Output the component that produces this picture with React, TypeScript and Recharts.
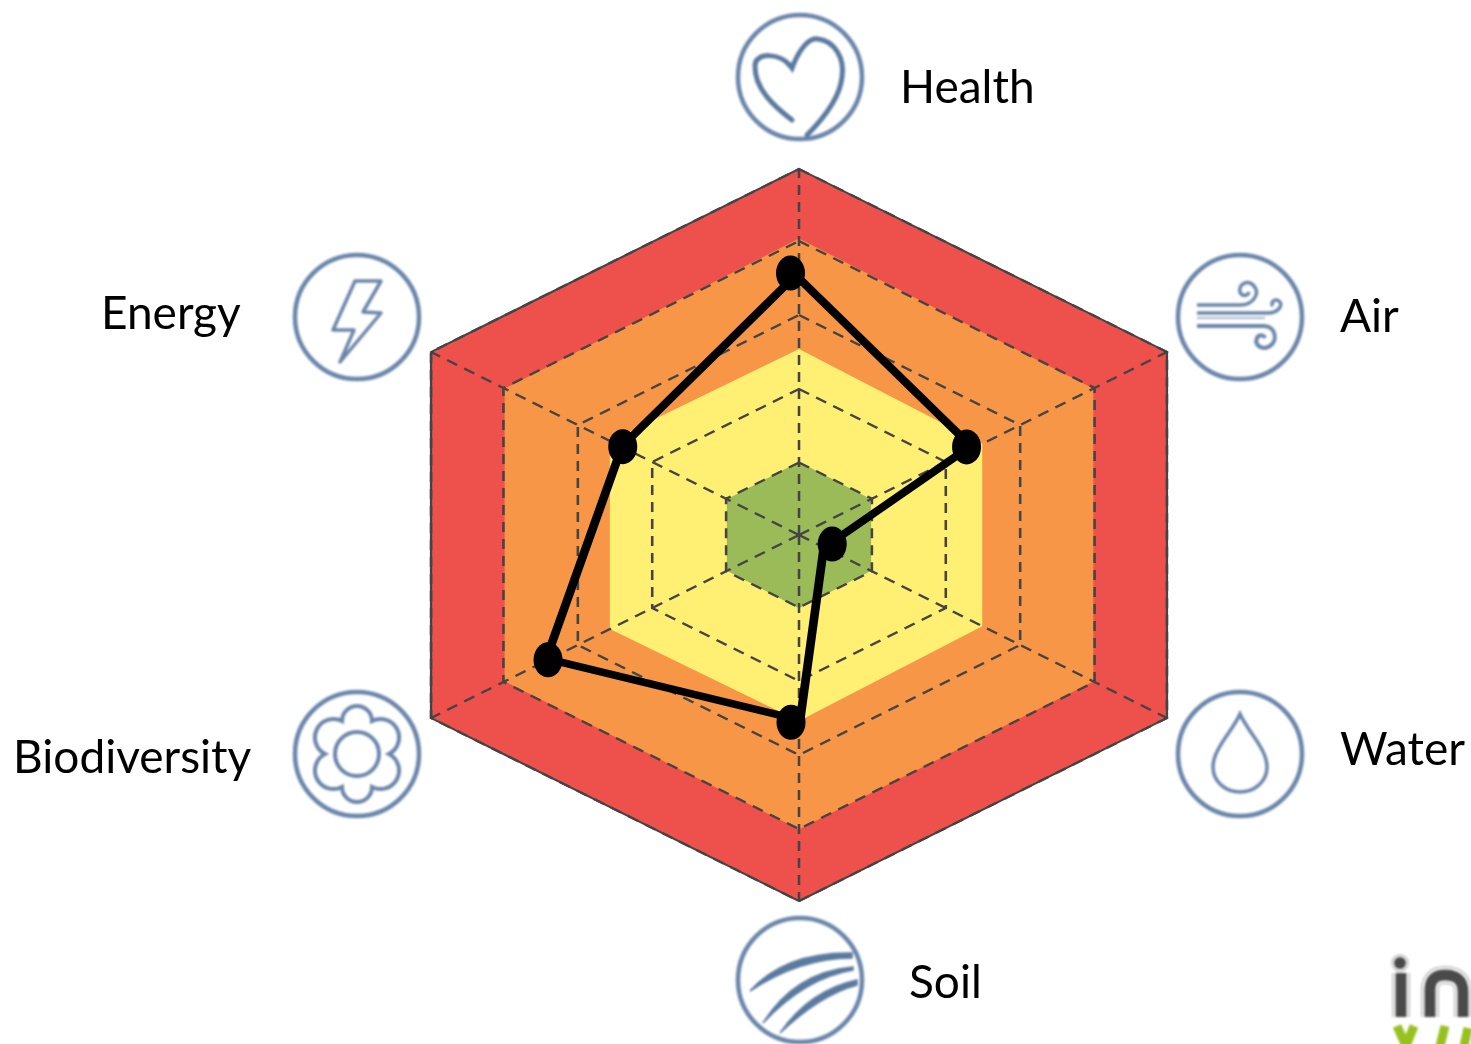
import {
  PolarAngleAxis,
  PolarGrid,
  PolarRadiusAxis,
  Radar,
  RadarChart,
} from "recharts";

const CATEGORIES = ["Health", "Air", "Water", "Soil", "Biodiversity", "Energy"];

// hazard bands, read per axis because the drawn hexagons are not quite even
const BAND_RED = [5, 5, 5, 5, 5, 5];
const BAND_ORANGE = [4.05, 4, 4, 4.02, 4, 4];
const BAND_YELLOW = [2.54, 2.49, 2.49, 2.54, 2.57, 2.57];
const BAND_GREEN = [1, 0.98, 0.98, 1, 0.98, 0.98];

// radii of the dashed rings, in chart pixels
const RING_RADII = [72.5, 146, 220, 294, 366];

// the score polyline and its dots don't quite line up in the picture,
// and neither sits exactly on the spokes, so each has its own bearings
const LINE_BEARINGS = [359.4, 59, 121.2, 179.7, 240.4, 300.3];
const LINE_VALUES = [3.55, 2.36, 0.34, 2.53, 3.42, 2.41];
const DOT_BEARINGS = [358.4, 58.6, 107.6, 182.1, 240, 300.2];
const DOT_VALUES = [3.58, 2.31, 0.41, 2.56, 3.41, 2.4];

const RED = "#ee504b";
const ORANGE = "#f79646";
const YELLOW = "#fff073";
const GREEN = "#9bbb59";
const GRID = "#444444";
const ICON = "#6a86ab";

const SIZE = 800;
const STRETCH = 368 / 317;

const bandRows = CATEGORIES.map((name, i) => ({
  name,
  red: BAND_RED[i],
  orange: BAND_ORANGE[i],
  yellow: BAND_YELLOW[i],
  green: BAND_GREEN[i],
}));

const lineRows = CATEGORIES.map((name, i) => ({
  name,
  bearing: LINE_BEARINGS[i],
  score: LINE_VALUES[i],
}));

const dotRows = CATEGORIES.map((name, i) => ({
  name,
  bearing: DOT_BEARINGS[i],
  score: DOT_VALUES[i],
}));

const layer = {
  position: "absolute",
  left: 799 - SIZE / 2,
  top: 535 - SIZE / 2,
  width: SIZE,
  height: SIZE,
  transform: `scaleX(${STRETCH})`,
  transformOrigin: "center",
} as const;

const chartProps = { width: SIZE, height: SIZE, cx: SIZE / 2, cy: SIZE / 2, outerRadius: 366 };

const labelStyle = { fontFamily: "Lato", fontSize: 46, fill: "#000" };

function ScoreDot(props: any) {
  return <ellipse key={props.index} cx={props.cx} cy={props.cy} rx={12.5} ry={17.5} fill="#000" />;
}

function Ring({ x, y, children }: { x: number; y: number; children?: React.ReactNode }) {
  return (
    <g transform={`translate(${x} ${y})`} fill="none" stroke={ICON} strokeWidth={3.5}>
      <circle r={62} strokeWidth={4.5} />
      {children}
    </g>
  );
}

function Icons() {
  return (
    <g style={{ filter: "blur(0.9px)" }}>
      <Ring x={800} y={77}>
        <path
          d="M-8,43 C-25,30 -46,12 -45,-12 C-45,-24 -20,-26 -8,-9 C-2,-25 8,-40 18,-38 C35,-36 45,-18 42,0 C40,20 25,40 7,58"
          stroke="#5b7aa0"
          strokeWidth={5}
          strokeLinecap="round"
        />
      </Ring>
      <Ring x={1240} y={317}>
        <path d="M-43,-12 H0 C14,-12 20,-24 14,-31 C8,-38 -2,-33 0,-25 C2,-20 8,-21 9,-25" />
        <path d="M-43,-4 H28 C38,-4 44,-12 39,-16 C34,-19 30,-14 33,-11" />
        <path d="M-43,1 H25" strokeWidth={2} opacity={0.6} />
        <path d="M-43,9 H24 C36,9 38,24 30,29 C22,34 14,28 17,21 C19,17 24,18 25,21" strokeWidth={4} />
      </Ring>
      <Ring x={357} y={317}>
        <path d="M-2,-36 L24,-36 L6,-5 L24,-4 L-17,45 L-3,13 L-24,13 Z" strokeLinejoin="round" />
      </Ring>
      <Ring x={1240} y={754}>
        <path d="M0,-40 C-8,-22 -27,-5 -27,13 C-27,28 -14,38 0,38 C14,38 27,28 27,13 C27,-5 8,-22 0,-40 Z" />
      </Ring>
      <Ring x={357} y={754}>
        <circle r={22} strokeWidth={4} />
        <path
          d="M-15,-33 A15,15 0 1 1 15,-33 A15,15 0 1 1 32,0 A15,15 0 1 1 15,33 A15,15 0 1 1 -15,33 A15,15 0 1 1 -32,0 A15,15 0 1 1 -15,-33 Z"
          strokeWidth={4}
        />
      </Ring>
      <Ring x={800} y={980}>
        <g fill="#5b7aa0" stroke="#5b7aa0" strokeWidth={1.5}>
          <path d="M-50,11 Q-15,-28 52,-27 L52,-22 Q0,-22 -50,11 Z" />
          <path d="M-37,43 Q-5,-8 53,-13 L53,-10 Q5,-2 -37,43 Z" />
          <path d="M-20,53 Q10,10 57,0 L57,5 Q20,15 -20,53 Z" />
        </g>
      </Ring>
    </g>
  );
}

function Logo() {
  const stems = "M1401,1017 V973 M1430,1017 V990 Q1430,975 1445,975 Q1463,975 1463,992 V1017";
  return (
    <g fill="none" style={{ filter: "blur(0.8px)" }}>
      <path d={stems} stroke="#bbbbbb" strokeWidth={18} />
      <path d={stems} stroke="#ffffff" strokeWidth={15} />
      <path d={stems} stroke="#4a4a4a" strokeWidth={11} />
      <circle cx={1400} cy={963} r={8} fill="#fff" stroke="#bbb" strokeWidth={1.5} />
      <circle cx={1400} cy={963} r={6} fill="#4a4a4a" />
      <path
        d="M1397,1026 L1406,1046 M1414,1026 L1406,1046 M1445,1026 L1440,1046 M1468,1028 L1464,1046"
        stroke="#97c11f"
        strokeWidth={9}
      />
    </g>
  );
}

export default function App() {
  return (
    <div
      style={{
        position: "absolute",
        left: 0,
        top: 0,
        width: 1471,
        height: 1044,
        overflow: "hidden",
        background: "#fff",
      }}
    >
      <div style={layer}>
        <RadarChart {...chartProps} data={bandRows}>
          <PolarAngleAxis dataKey="name" tick={false} axisLine={false} />
          <PolarRadiusAxis domain={[0, 5]} tickCount={6} tick={false} axisLine={false} />
          <Radar dataKey="red" fill={RED} fillOpacity={1} stroke="none" isAnimationActive={false} />
          <Radar dataKey="orange" fill={ORANGE} fillOpacity={1} stroke="none" isAnimationActive={false} />
          <Radar dataKey="yellow" fill={YELLOW} fillOpacity={1} stroke="none" isAnimationActive={false} />
          <Radar dataKey="green" fill={GREEN} fillOpacity={1} stroke="none" isAnimationActive={false} />
        </RadarChart>
      </div>
      <div style={layer}>
        {/* grid on a layer of its own so it lands on top of the bands */}
        <RadarChart {...chartProps} data={bandRows}>
          <PolarAngleAxis dataKey="name" tick={false} axisLine={false} />
          <PolarRadiusAxis domain={[0, 5]} tickCount={6} tick={false} axisLine={false} />
          <PolarGrid
            gridType="polygon"
            polarRadius={RING_RADII}
            stroke={GRID}
            strokeWidth={2.2}
            strokeDasharray="10 7"
          />
          <Radar dataKey="red" fill="none" stroke={GRID} strokeWidth={2} isAnimationActive={false} />
        </RadarChart>
      </div>
      <div style={layer}>
        <RadarChart {...chartProps} data={lineRows}>
          <PolarAngleAxis dataKey="bearing" type="number" domain={[0, 360]} tick={false} axisLine={false} />
          <PolarRadiusAxis domain={[0, 5]} tick={false} axisLine={false} />
          <Radar dataKey="score" fill="none" stroke="#000" strokeWidth={7.5} dot={false} isAnimationActive={false} />
        </RadarChart>
      </div>
      <div style={layer}>
        <RadarChart {...chartProps} data={dotRows}>
          <PolarAngleAxis dataKey="bearing" type="number" domain={[0, 360]} tick={false} axisLine={false} />
          <PolarRadiusAxis domain={[0, 5]} tick={false} axisLine={false} />
          <Radar dataKey="score" fill="none" stroke="none" dot={ScoreDot} isAnimationActive={false} />
        </RadarChart>
      </div>
      <svg width={1471} height={1044} style={{ position: "absolute", left: 0, top: 0 }}>
        <Icons />
        <Logo />
        <text x={900} y={103} style={labelStyle}>Health</text>
        <text x={1340} y={332} style={labelStyle}>Air</text>
        <text x={101} y={329} style={labelStyle}>Energy</text>
        <text x={1340} y={765} style={labelStyle}>Water</text>
        <text x={13} y={773} style={labelStyle}>Biodiversity</text>
        <text x={909} y={998} style={labelStyle}>Soil</text>
      </svg>
    </div>
  );
}
